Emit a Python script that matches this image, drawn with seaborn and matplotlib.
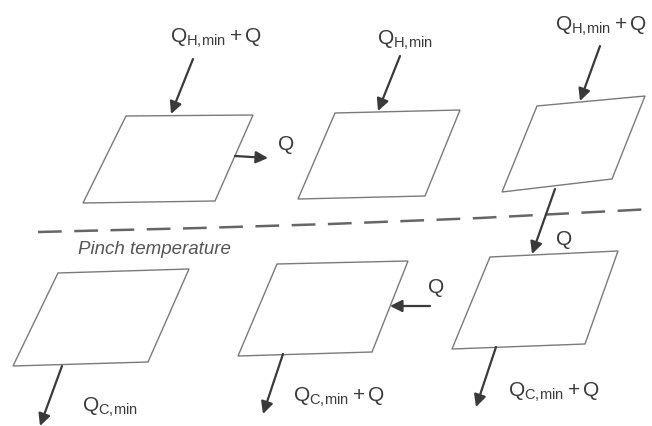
import matplotlib
matplotlib.use('Agg')
import matplotlib.pyplot as plt
import seaborn as sns
import pandas as pd

# 图中各元素的像素坐标 (x 向右, y 向下)
units = ['P1', 'P2', 'P3', 'P4', 'P5', 'P6']
unit_x = [[126, 253, 215, 83], [335, 460, 425, 298], [537, 645, 612, 502],
          [58, 189, 148, 13], [277, 408, 372, 238], [490, 618, 585, 452]]
unit_y = [[117, 116, 202, 204], [114, 111, 197, 200], [107, 97, 180, 193],
          [274, 270, 363, 367], [265, 262, 353, 357], [258, 252, 345, 350]]

pinch_x = [38, 200, 330, 480, 652]
pinch_y = [233, 229, 225, 219, 210]

arrow_start = [(193, 60), (235, 157), (400, 57), (600, 47), (555, 190),
               (430, 307), (62, 367), (283, 355), (496, 348)]
arrow_end = [(171, 115), (268, 159), (378, 112), (580, 102), (532, 255),
             (390, 307), (40, 427), (263, 415), (476, 408)]

labels = [r'$Q_{H,\!min} + Q$', r'$Q_{H,\!min}$', r'$Q_{H,\!min} + Q$', r'$Q$', r'$Q$',
          r'$Q$', r'$Q_{C,\!min}$', r'$Q_{C,\!min} + Q$', r'$Q_{C,\!min} + Q$']
label_x = [170, 377, 555, 277, 555, 427, 82, 293, 508]
label_y = [43, 45, 31, 150, 245, 293, 412, 402, 397]

sns.set_theme(style='white')
plt.rcParams['font.family'] = ['Liberation Sans', 'DejaVu Sans']
plt.rcParams['mathtext.fontset'] = 'custom'
plt.rcParams['mathtext.rm'] = 'Liberation Sans'
plt.rcParams['mathtext.it'] = 'Liberation Sans'
plt.rcParams['mathtext.default'] = 'rm'

fig = plt.figure(figsize=(6.52, 4.27), dpi=100)
ax = fig.add_axes([0, 0, 1, 1])

# 换热单元 (平行四边形)
for name, xs, ys in zip(units, unit_x, unit_y):
    ax.fill(xs, ys, facecolor='white', edgecolor='#7a7a7a', linewidth=1.0)

# 夹点温度虚线
df_pinch = pd.DataFrame({'x': pinch_x, 'y': pinch_y})
sns.lineplot(data=df_pinch, x='x', y='y', sort=False, ax=ax, color='#666666',
             linewidth=1.8)
ax.lines[-1].set_dashes((9.5, 5))
ax.set_xlim(0, 652)
ax.set_ylim(427, 0)
ax.axis('off')

ax.text(78, 254, 'Pinch temperature', fontsize=13.5, style='italic',
        color='#555555', ha='left', va='baseline')

# 热流箭头
for (x0, y0), (x1, y1) in zip(arrow_start, arrow_end):
    ax.annotate('', xy=(x1, y1), xytext=(x0, y0),
                arrowprops=dict(arrowstyle='-|>', color='#3a3a3a', lw=1.6,
                                mutation_scale=18, shrinkA=0, shrinkB=0))

for txt, x, y in zip(labels, label_x, label_y):
    ax.text(x, y, txt, fontsize=15, color='#3a3a3a', ha='left', va='baseline')

fig.savefig('out.png', dpi=100)
